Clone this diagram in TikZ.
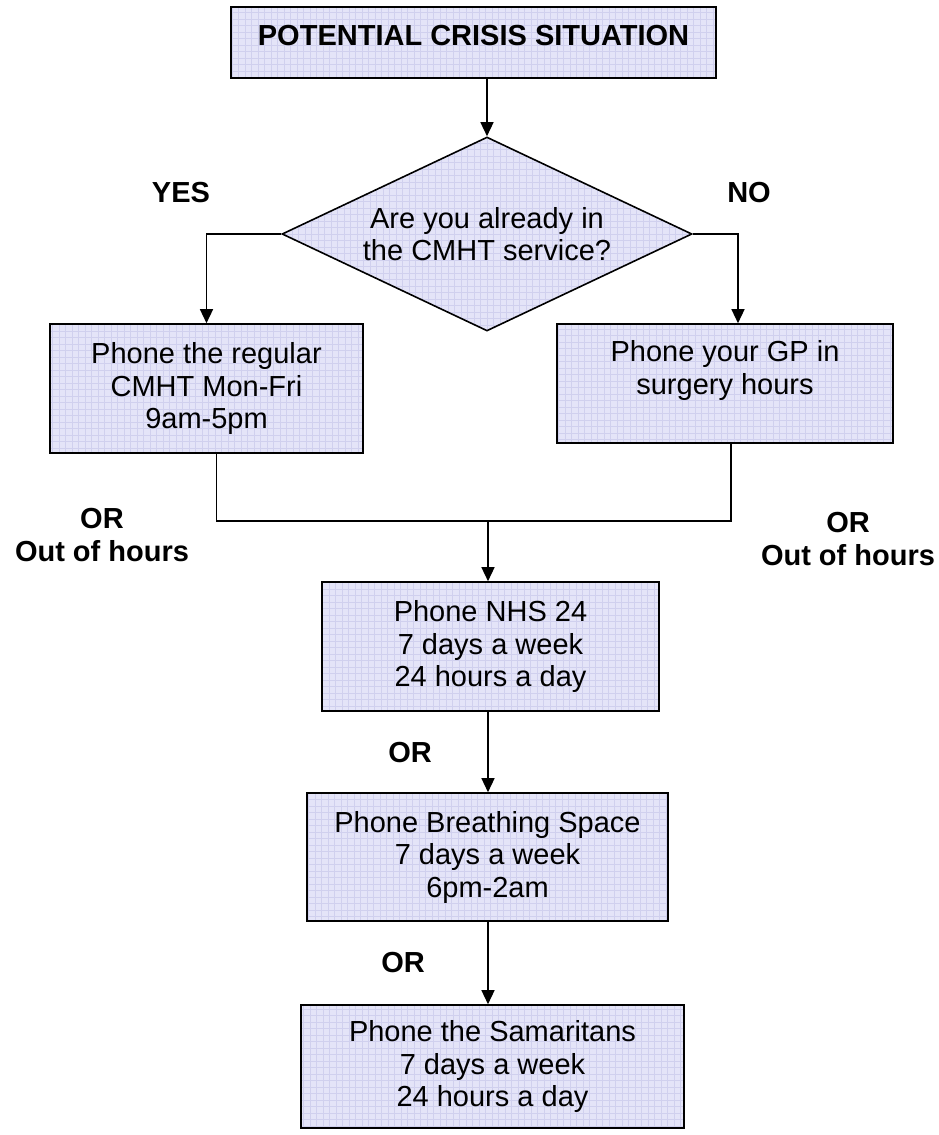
\documentclass[tikz,border=0pt]{standalone}
\usepackage{fontspec}
\setmainfont{Liberation Sans}
\usetikzlibrary{shapes.geometric,arrows.meta}

\definecolor{boxfill}{RGB}{228,228,248}
\definecolor{boxgrid}{RGB}{208,208,238}

\tikzset{
  box/.style={draw, line width=1.6pt, fill=boxfill, align=center, inner sep=0pt,
    font=\fontsize{29}{32.5}\selectfont,
    path picture={\draw[boxgrid, line width=0.4pt, step=6.5pt]
      (path picture bounding box.south west) grid (path picture bounding box.north east);}},
  query/.style={box, diamond, aspect=2},
  lbl/.style={align=center, font=\bfseries\fontsize{29}{33}\selectfont},
  link/.style={line width=1.4pt},
  arr/.style={link, -{Triangle[length=14pt,width=13pt]}}
}

\begin{document}
\begin{tikzpicture}[x=1pt, y=-1pt]
    \useasboundingbox (0,0) rectangle (938,1135);

    % Start and question
    \node[box, minimum width=485pt, minimum height=71pt, text depth=15pt,
          font=\bfseries\fontsize{29}{32.5}\selectfont] (crisis) at (473.5,42.5) {POTENTIAL CRISIS SITUATION};
    \node[query, minimum width=410pt, minimum height=194pt] (cmht) at (487,234) {Are you already in\\the CMHT service?};

    % Day-time contacts
    \node[box, minimum width=313pt, minimum height=129pt] (regular) at (206.5,388.5) {Phone the regular\\CMHT Mon-Fri\\9am-5pm};
    \node[box, minimum width=336pt, minimum height=119pt] (gp) at (725,383.5) {Phone your GP in\\surgery hours\\\mbox{}};

    % Out of hours contacts
    \node[box, minimum width=337pt, minimum height=129pt] (nhs) at (490.5,646.5) {Phone NHS 24\\7 days a week\\24 hours a day};
    \node[box, minimum width=361pt, minimum height=128pt] (breath) at (487.5,857) {Phone Breathing Space\\7 days a week\\6pm-2am};
    \node[box, minimum width=383pt, minimum height=123pt] (sam) at (492.5,1066.5) {Phone the Samaritans\\7 days a week\\24 hours a day};

    % Labels
    \node[lbl] (yes) at (181,193) {YES};
    \node[lbl] (no) at (749,193) {NO};
    \node[lbl] (orleft) at (102,535) {OR\\Out of hours};
    \node[lbl] (orright) at (848,539) {OR\\Out of hours};
    \node[lbl] (ornhs) at (410,753) {OR};
    \node[lbl] (orbreath) at (403,963) {OR};

    % Connectors
    \coordinate (join) at (488,521);
    \draw[arr] (crisis.south -| cmht.north) -- (cmht.north);
    \draw[arr] (cmht.west) -| (regular.north);
    \draw[arr] (cmht.east) -| ([xshift=13pt]gp.north);
    \draw[link] ([xshift=10pt]regular.south) |- (join) -| ([xshift=6pt]gp.south);
    \draw[arr] (join) -- (join |- nhs.north);
    \draw[arr] (nhs.south -| join) -- (join |- breath.north);
    \draw[arr] (breath.south -| join) -- (join |- sam.north);
\end{tikzpicture}
\end{document}
